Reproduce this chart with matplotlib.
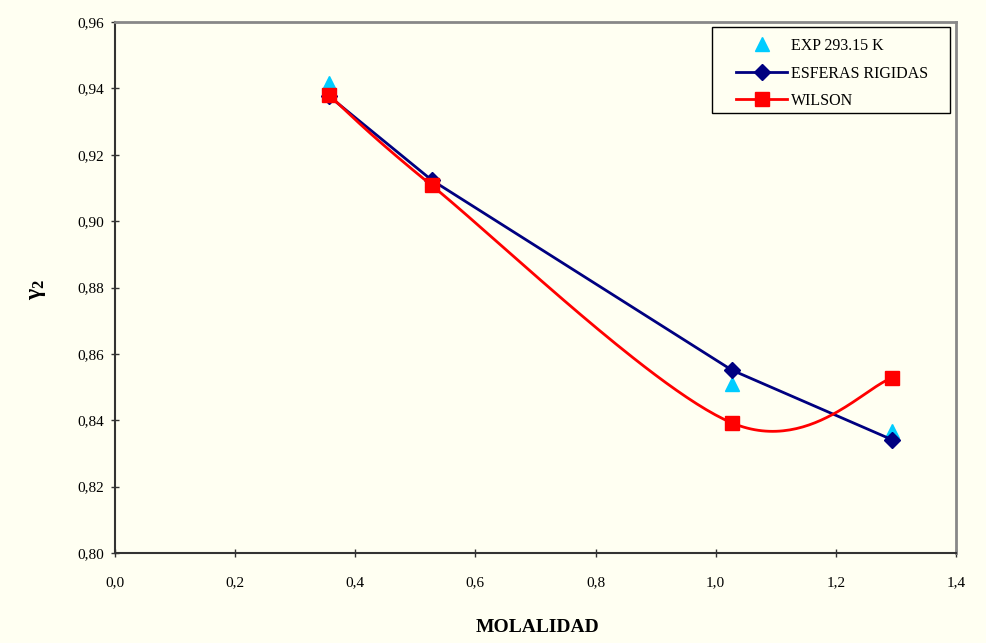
import numpy as np
import matplotlib
matplotlib.use('Agg')
import matplotlib.pyplot as plt
from matplotlib.patches import Rectangle

# datos
molalidad = [0.356, 0.527, 1.027, 1.294]
exp_293 = [0.9416, 0.9124, 0.8509, 0.8368]
esferas = [0.9377, 0.9124, 0.8551, 0.8341]
wilson = [0.9380, 0.9108, 0.8392, 0.8527]

bg = '#FFFFF2'
plt.rcParams['font.family'] = ['Liberation Serif', 'DejaVu Serif']
plt.rcParams['mathtext.fontset'] = 'custom'
plt.rcParams['mathtext.rm'] = 'Liberation Serif'
plt.rcParams['mathtext.it'] = 'Liberation Serif:italic'
plt.rcParams['mathtext.bf'] = 'Liberation Serif:bold'

fig = plt.figure(figsize=(9.87, 6.43), dpi=100, facecolor=bg)
ax = fig.add_axes([115/987, 1-553/643, (956-115)/987, (553-22)/643])
ax.set_facecolor(bg)

XMIN, XMAX, YMIN, YMAX = 0.0, 1.4, 0.80, 0.96
W, H = 841.0, 531.0   # pixeles del area de trazado


def suavizar(xs, ys, n=60):
    # curva suavizada tipo Excel (Catmull-Rom con Bezier) en espacio de pixeles
    px = (np.array(xs) - XMIN) / (XMAX - XMIN) * W
    py = (np.array(ys) - YMIN) / (YMAX - YMIN) * H
    P = np.column_stack([px, py])
    Pe = np.vstack([P[0], P, P[-1]])
    out = []
    t = np.linspace(0, 1, n)[:, None]
    for i in range(len(P) - 1):
        p0, p3 = Pe[i+1], Pe[i+2]
        c1 = p0 + (Pe[i+2] - Pe[i]) / 6.0
        c2 = p3 - (Pe[i+3] - Pe[i+1]) / 6.0
        seg = (1-t)**3*p0 + 3*(1-t)**2*t*c1 + 3*(1-t)*t**2*c2 + t**3*p3
        out.append(seg)
    c = np.vstack(out)
    return c[:, 0] / W * (XMAX - XMIN) + XMIN, c[:, 1] / H * (YMAX - YMIN) + YMIN


ax.plot(molalidad, exp_293, linestyle='none', marker='^', color='#00CCFF',
        markersize=10, label='EXP 293.15 K', zorder=3)
ax.plot(molalidad, esferas, color='#000080', lw=2, marker='D', markersize=8,
        label='ESFERAS RIGIDAS', zorder=4)
wx, wy = suavizar(molalidad, wilson)
ax.plot(wx, wy, color='#FF0000', lw=2, zorder=5)
ax.plot(molalidad, wilson, linestyle='none', marker='s', color='#FF0000',
        markersize=10, zorder=5)
# entrada de leyenda para WILSON
ax.plot([], [], color='#FF0000', lw=2, marker='s', markersize=10, label='WILSON')

ax.set_xlim(XMIN, XMAX)
ax.set_ylim(YMIN, YMAX)
xt = np.arange(0, 1.41, 0.2)
yt = np.arange(0.80, 0.961, 0.02)
ax.set_xticks(xt)
ax.set_yticks(yt)
ax.set_xticklabels([f'{v:.1f}'.replace('.', ',') for v in xt], fontsize=11)
ax.set_yticklabels([f'{v:.2f}'.replace('.', ',') for v in yt], fontsize=11)
ax.tick_params(direction='inout', length=6, width=1, color='#333333', pad=5)
ax.tick_params(axis='x', pad=14)

for s in ['left', 'bottom']:
    ax.spines[s].set_color('#333333')
    ax.spines[s].set_linewidth(1.5)
for s in ['top', 'right']:
    ax.spines[s].set_color('#888888')
    ax.spines[s].set_linewidth(2)

fig.text(538/987, 1-628/643, 'MOLALIDAD', fontsize=14, fontweight='bold',
         ha='center', va='center')
fig.text(38/987, 1-290/643, r'$\mathbf{\gamma_2}$', fontsize=17,
         rotation=90, ha='center', va='center')

# marco de la leyenda
marco = Rectangle((712/987, 1-113/643), (950-712)/987, (113-27)/643,
                  transform=fig.transFigure, facecolor=bg, edgecolor='black',
                  lw=1, zorder=4)
fig.add_artist(marco)
handles, labels = ax.get_legend_handles_labels()
leg = fig.legend(handles, labels, loc='upper left',
                 bbox_to_anchor=(736/987, 1-38/643),
                 bbox_transform=fig.transFigure, fontsize=11.5, frameon=False,
                 handlelength=3.2, borderpad=0, labelspacing=0.72,
                 handletextpad=0.25, borderaxespad=0)
leg.set_zorder(5)

fig.savefig('out.png', dpi=100, facecolor=bg)
